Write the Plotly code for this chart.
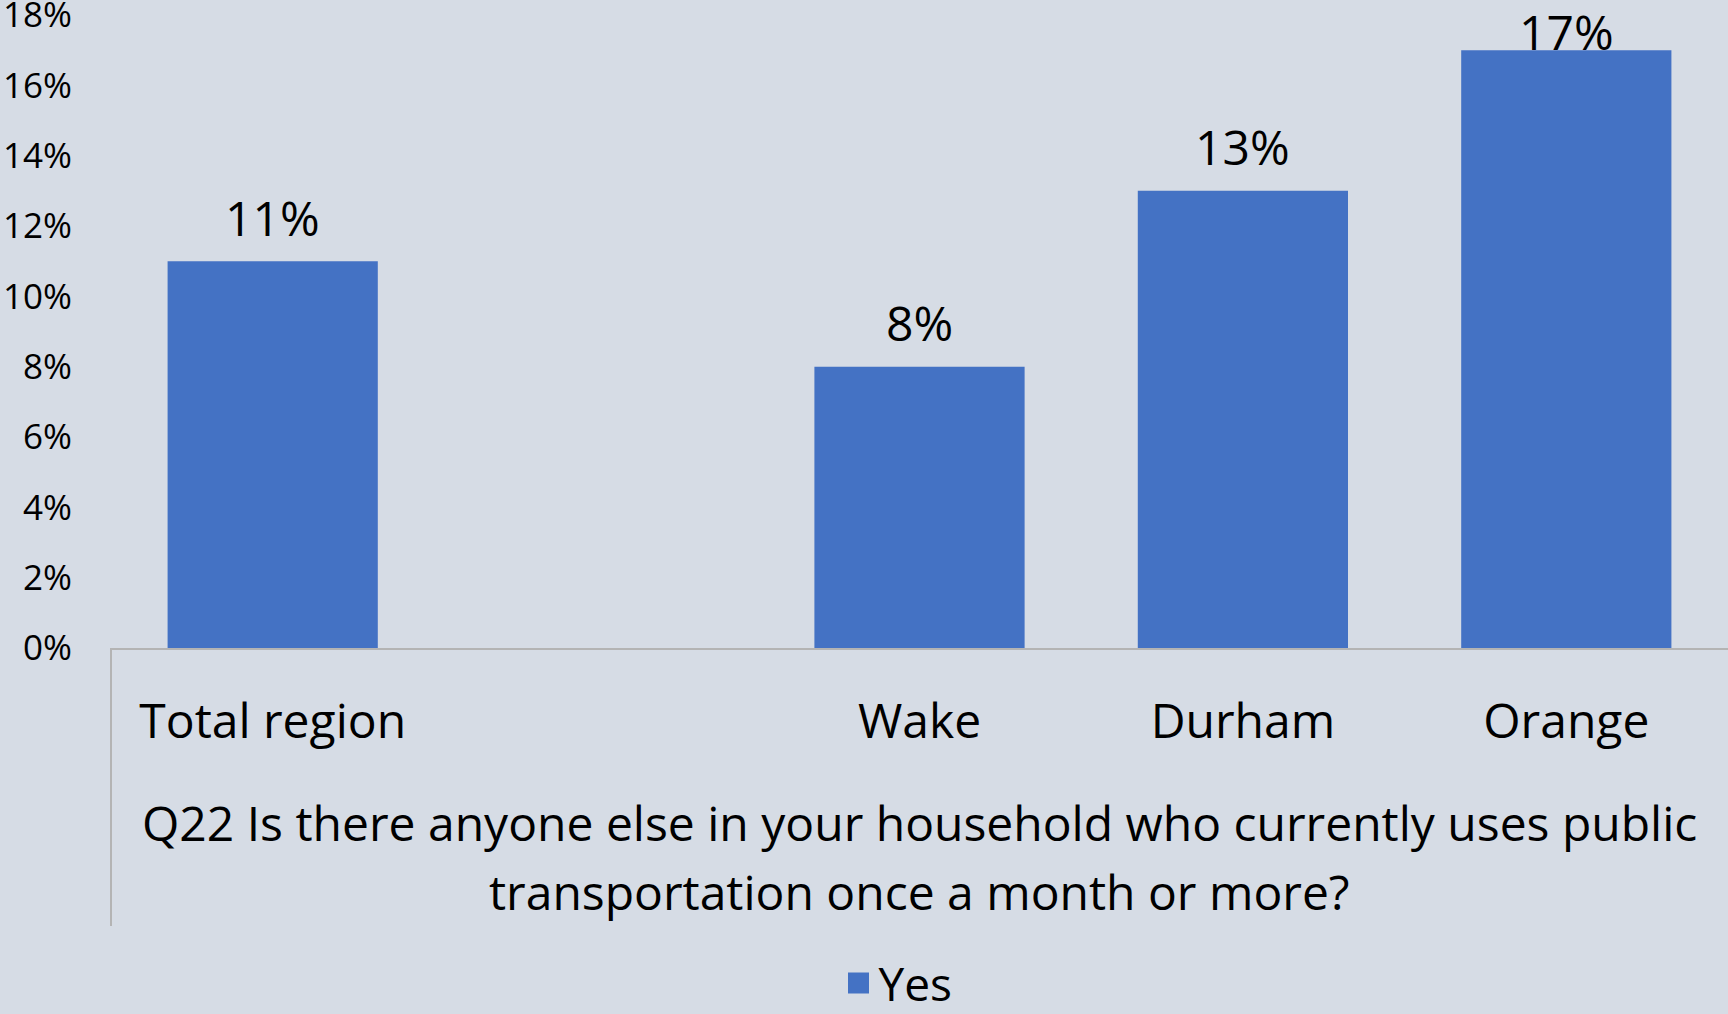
import plotly.graph_objects as go

categories = ["Total region", " ", "Wake", "Durham", "Orange"]
values = [0.11, None, 0.08, 0.13, 0.17]
labels = ["11%", "", "8%", "13%", "17%"]
y_ticks = [0, 0.02, 0.04, 0.06, 0.08, 0.10, 0.12, 0.14, 0.16, 0.18]
y_max = 0.18
series_name = "Yes"
title_lines = ["Q22 Is there anyone else in your household who currently uses public",
               "transportation once a month or more?"]

BG = "#D6DCE5"
BAR = "#4472C4"
AXIS_LINE = "#B4B4B4"
FONT = "Open Sans"

W, H = 1728, 1014
ML, MR, MT, MB = 111, 0, 15, 366
PLOT_H = H - MT - MB
PLOT_W = W - ML - MR

fig = go.Figure()
fig.add_trace(go.Bar(
    x=categories, y=values, name=series_name,
    marker=dict(color=BAR, line=dict(width=0)),
    showlegend=False, hoverinfo="x+y",
))
# legend entry (larger square swatch)
fig.add_trace(go.Scatter(
    x=[None], y=[None], name=series_name, mode="markers",
    marker=dict(symbol="square", size=30, color=BAR, line=dict(color=BAR, width=5)),
    showlegend=True,
))

# data labels: centred ~44px above bar top, kept inside the chart near the top
for cat, v, lab in zip(categories, values, labels):
    if v is None:
        continue
    dist_top = (y_max - v) / y_max * PLOT_H
    shift = min(44, dist_top - 16)
    fig.add_annotation(x=cat, y=v, text=lab, showarrow=False, yanchor="middle",
                       yshift=shift, font=dict(size=48, family=FONT, color="black"))

fig.update_layout(
    width=W, height=H,
    margin=dict(l=ML, r=MR, t=MT, b=MB, pad=0, autoexpand=False),
    paper_bgcolor=BG, plot_bgcolor=BG,
    font=dict(family=FONT, color="black"),
    bargap=0.35,
    showlegend=True,
    legend=dict(orientation="h", x=(898 - ML) / PLOT_W, xanchor="center",
                y=((H - MB) - 983) / PLOT_H,
                yanchor="middle", font=dict(size=46, family=FONT), bgcolor="rgba(0,0,0,0)"),
    xaxis=dict(showgrid=False, showline=True, linecolor=AXIS_LINE, linewidth=2,
               tickfont=dict(size=48, family=FONT), ticks="", ticklabelstandoff=30,
               automargin=False, fixedrange=True),
    yaxis=dict(range=[0, y_max], tickvals=y_ticks, tickformat=".0%", showgrid=False,
               zeroline=False, showline=False, ticks="", ticklabelstandoff=38,
               ticklabeloverflow="allow", automargin=False,
               tickfont=dict(size=35, family=FONT)),
)

fig.add_shape(type="line", xref="paper", yref="paper", x0=0, x1=0, y0=0,
              y1=-(926 - (H - MB)) / PLOT_H, line=dict(color=AXIS_LINE, width=2))

for line, ypix in zip(title_lines, [822, 891]):
    fig.add_annotation(text=line, xref="paper", yref="paper", x=0.5,
                       y=((H - MB) - ypix) / PLOT_H,
                       xanchor="center", yanchor="middle", showarrow=False,
                       font=dict(size=48, family=FONT, color="black"))

fig.write_html("out.html", config={"displayModeBar": False})

with open("out.html", "r", encoding="utf-8") as f:
    html = f.read()
html = html.replace("<head>", "<head><style>html,body{margin:0;padding:0;overflow:hidden;}</style>", 1)
with open("out.html", "w", encoding="utf-8") as f:
    f.write(html)
